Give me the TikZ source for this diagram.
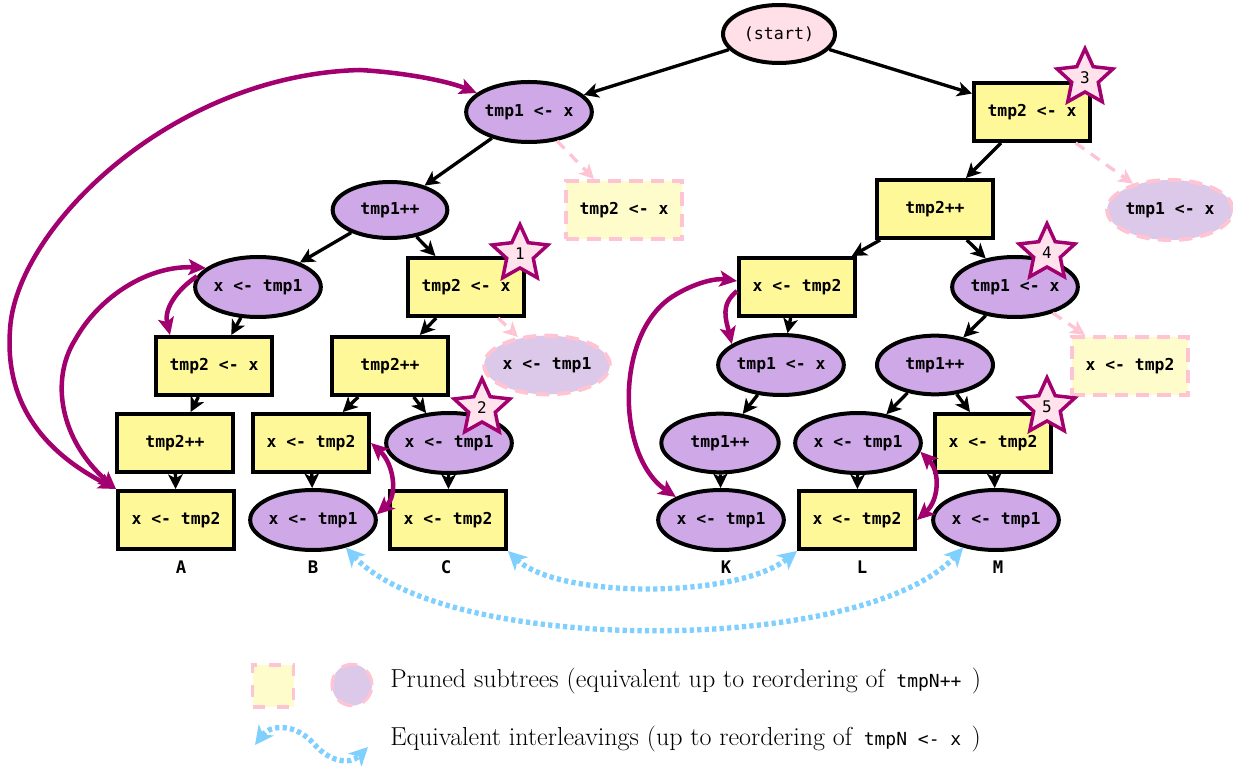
\documentclass[tikz,border=0pt]{standalone}
\usepackage{fontspec}
\newfontfamily\mono{DejaVu Sans Mono}
\usetikzlibrary{shapes.geometric,arrows.meta}
\definecolor{lav}{HTML}{CFA8E8}
\definecolor{yel}{HTML}{FFF899}
\definecolor{startpink}{HTML}{FFE0E8}
\definecolor{pyel}{HTML}{FFFCCC}
\definecolor{plav}{HTML}{DCC8E8}
\definecolor{pinkd}{HTML}{FFC4D4}
\definecolor{mag}{HTML}{A2006E}
\definecolor{sky}{HTML}{80D0FF}
\definecolor{starpink}{HTML}{FFE2EC}
\tikzset{
  nodefont/.style={font=\mono\bfseries\fontsize{12.3}{14}\selectfont},
  box/.style={draw, line width=3pt, fill=yel, minimum width=87pt, minimum height=43.5pt, inner sep=0pt, nodefont},
  oval/.style={ellipse, draw, line width=3pt, fill=lav, minimum width=90pt, minimum height=45pt, inner sep=0pt, nodefont},
  pbox/.style={box, draw=pinkd, dash pattern=on 10pt off 6pt, fill=pyel},
  poval/.style={oval, draw=pinkd, dash pattern=on 10pt off 6pt, fill=plav},
  tree/.style={line width=2.5pt, -{Stealth[length=11pt,width=11pt,inset=3pt]}},
  pedge/.style={line width=2.5pt, draw=pinkd, dash pattern=on 8pt off 6pt, -{Stealth[length=11pt,width=11pt,inset=3pt,fill=startpink]}},
  swp/.style={draw=mag, line width=3.4pt, {Stealth[length=13pt,width=12pt,inset=3pt]}-{Stealth[length=13pt,width=12pt,inset=3pt]}},
  swpone/.style={draw=mag, line width=3.4pt, -{Stealth[length=13pt,width=12pt,inset=3pt]}},
  eqv/.style={draw=sky, line width=4pt, dash pattern=on 3.2pt off 2.4pt, {Stealth[length=14pt,width=14pt,inset=4pt]}-{Stealth[length=14pt,width=14pt,inset=4pt]}},
  starn/.style={star, star points=5, star point ratio=2.1, draw=mag, line width=2.6pt, fill=starpink, minimum size=44pt, inner sep=0pt, font=\mono\fontsize{12}{13}\selectfont},
  lab/.style={font=\mono\bfseries\fontsize{13}{14}\selectfont},
  legtext/.style={anchor=base west, inner sep=0pt, font=\fontsize{19.5}{22}\selectfont}
}
\begin{document}
\begin{tikzpicture}[x=0.75pt,y=-0.75pt]
\useasboundingbox (0,0) rectangle (1233,766);
% nodes
\node[oval, fill=startpink, minimum width=84pt, minimum height=43.5pt, font=\mono\fontsize{12.5}{14}\selectfont] (S) at (779,34) {(start)};
\node[oval] (L1) at (529,112) {tmp1 <- x};
\node[box] (R1) at (1032,112) {tmp2 <- x};
\node[pbox] (P1) at (624,210) {tmp2 <- x};
\node[oval, minimum width=86pt, minimum height=42pt] (L2) at (390,210) {tmp1++};
\node[box] (R2) at (935,209) {tmp2++};
\node[poval] (P2) at (1170,210) {tmp1 <- x};
\node[oval] (L3a) at (258,287) {x <- tmp1};
\node[box] (L3b) at (466,287) {tmp2 <- x};
\node[box] (R3a) at (797,287) {x <- tmp2};
\node[oval] (R3b) at (1015,287) {tmp1 <- x};
\node[poval, minimum height=44pt] (P3) at (547,365) {x <- tmp1};
\node[pbox] (P4) at (1130,366) {x <- tmp2};
\node[box] (A4) at (214,366) {tmp2 <- x};
\node[box] (BC4) at (390,366) {tmp2++};
\node[oval] (K4) at (781,365) {tmp1 <- x};
\node[oval, minimum width=87pt, minimum height=44pt] (LM4) at (935,365) {tmp1++};
\node[box] (A5) at (175,443) {tmp2++};
\node[box] (B5) at (311,443) {x <- tmp2};
\node[oval] (C5) at (449,443) {x <- tmp1};
\node[oval, minimum width=88pt, minimum height=44pt] (K5) at (720,443) {tmp1++};
\node[oval] (L5) at (858,443) {x <- tmp1};
\node[box] (M5) at (993,443) {x <- tmp2};
\node[box] (A6) at (176,520) {x <- tmp2};
\node[oval] (B6) at (313,520) {x <- tmp1};
\node[box] (C6) at (448,520) {x <- tmp2};
\node[oval] (K6) at (721,520) {x <- tmp1};
\node[box] (L6) at (857,520) {x <- tmp2};
\node[oval] (M6) at (996,520) {x <- tmp1};
% labels
\node[lab] (lA) at (181,567) {A};
\node[lab] (lB) at (313,567) {B};
\node[lab] (lC) at (446,567) {C};
\node[lab] (lK) at (726,567) {K};
\node[lab] (lL) at (862,567) {L};
\node[lab] (lM) at (998,567) {M};
% tree edges
\draw[tree] (S) -- (L1);
\draw[tree] (S) -- (R1);
\draw[tree] (L1) -- (L2);
\draw[pedge] (L1) -- (P1);
\draw[tree] (L2) -- (L3a);
\draw[tree] (L2) -- (L3b);
\draw[tree] (L3a) -- (A4);
\draw[tree] (L3b) -- (BC4);
\draw[pedge] (L3b) -- (P3);
\draw[tree] (A4) -- (A5);
\draw[tree] (A5) -- (A6);
\draw[tree] (BC4) -- (B5);
\draw[tree] (BC4) -- (C5);
\draw[tree] (B5) -- (B6);
\draw[tree] (C5) -- (C6);
\draw[tree] (R1) -- (R2);
\draw[pedge] (R1) -- (P2);
\draw[tree] (R2) -- (R3a);
\draw[tree] (R2) -- (R3b);
\draw[tree] (R3a) -- (K4);
\draw[tree] (R3b) -- (LM4);
\draw[pedge] (R3b) -- (P4);
\draw[tree] (K4) -- (K5);
\draw[tree] (K5) -- (K6);
\draw[tree] (LM4) -- (L5);
\draw[tree] (LM4) -- (M5);
\draw[tree] (L5) -- (L6);
\draw[tree] (M5) -- (M6);
% stars
\node[starn] (st1) at (520,254) {1};
\node[starn] (st2) at (482,408) {2};
\node[starn] (st3) at (1085,78) {3};
\node[starn] (st4) at (1047,253) {4};
\node[starn] (st5) at (1047,407) {5};
% magenta swaps
\draw[swp] (A6.north west) .. controls (40,450) and (5,400) .. (10,330)
   .. controls (15,230) and (170,75) .. (360,70)
   .. controls (410,73) and (450,82) .. (L1.160);
\draw[swp] (A6.north west) .. controls (60,440) and (50,380) .. (75,340)
   .. controls (100,295) and (150,265) .. (L3a.160);
\draw[swpone] (L3a.170) .. controls +(-22,15) and +(-6,-25) .. ([xshift=12pt]A4.north west);
\draw[swp] (K6.153) .. controls (615,455) and (615,330) .. (675,295)
   .. controls (695,283) and (715,278) .. ([yshift=4.5pt]R3a.west);
\draw[swpone] ([yshift=-3pt]R3a.west) .. controls +(-17,14) and +(-6,-25) .. (K4.157);
\draw[swp] (B5.east) .. controls +(22,20) and +(22,-20) .. (B6.5);
\draw[swp] (L5.-8) .. controls +(20,20) and +(22,-20) .. (L6.east);
% blue equivalences
\draw[eqv] (B6.-40) .. controls +(100,108) and +(-100,108) .. (M6.-140);
\draw[eqv] (C6.south east) .. controls +(50,48) and +(-60,48) .. (L6.south west);
% legend
\node[pbox, minimum width=30.75pt, minimum height=31.5pt, line width=2.4pt, dash pattern=on 9pt off 9pt] (lgbox) at (273,686) {};
\node[poval, minimum width=30pt, minimum height=31pt, line width=2.4pt, dash pattern=on 12pt off 8pt] (lgov) at (352,685) {};
\node[legtext] (lg1) at (390,687) {Pruned subtrees (equivalent up to reordering of\hspace{0.45em}{\mono\fontsize{13.5}{15}\selectfont tmpN++}\hspace{0.4em})};
\node[legtext] (lg2) at (390,745) {Equivalent interleavings (up to reordering of\hspace{0.45em}{\mono\fontsize{13.5}{15}\selectfont tmpN <- x}\hspace{0.4em})};
\coordinate (lgA) at (255,745);
\coordinate (lgB) at (368,747);
\draw[eqv] (lgA) .. controls (270,725) and (295,722) .. (315,745)
   .. controls (330,762) and (350,765) .. (lgB);
\end{tikzpicture}
\end{document}
